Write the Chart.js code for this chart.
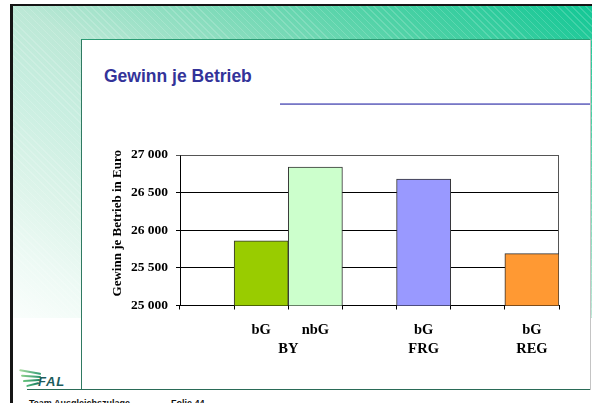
<!DOCTYPE html>
<html lang="de">
<head>
<meta charset="utf-8">
<title>Gewinn je Betrieb</title>
<script src="https://cdn.jsdelivr.net/npm/chart.js@4.4.1/dist/chart.umd.min.js"></script>
<style>
  html, body { margin: 0; padding: 0; background: #fff; }
  #slide { position: relative; width: 592px; height: 403px; overflow: hidden; background: #fff; font-family: "Liberation Sans", Arial, sans-serif; }
  #band {
    position: absolute; left: 13px; top: 6px; width: 579px; height: 312px;
    background:
      repeating-linear-gradient(45deg, rgba(255,255,255,0.16) 0 1px, rgba(255,255,255,0) 1px 5px),
      linear-gradient(to bottom left, #12c795 0%, #4fd2a6 20%, #85dcbc 35%, #bce8d6 50%, #c8eee0 62%, #ddf4ea 78%, #eefaf5 90%, #fafefc 100%);
  }
  #frameTop { position: absolute; left: 10px; top: 4px; width: 582px; height: 2px; background: #151515; }
  #frameLeft { position: absolute; left: 10px; top: 4px; width: 3px; height: 399px; background: #151515; }
  #panel {
    position: absolute; left: 81px; top: 39px; width: 510px; height: 351px; box-sizing: border-box;
    background: #fff; border-left: 1px solid #2f7a62; border-top: 1px solid #2b9c74; border-right: 1px solid #c4c4c4;
  }
  #baseLine { position: absolute; left: 27px; top: 389px; width: 563px; height: 1px; background: #2a6b57; }
  #title {
    position: absolute; left: 104px; top: 66px; line-height: 1;
    font: bold 17.5px "Liberation Sans", Arial, sans-serif; color: #333399; white-space: nowrap;
  }
  #titleRule { position: absolute; left: 280px; top: 103px; width: 310px; height: 2px; background: linear-gradient(#a0a0de, #6a6abb); }
  #logo { position: absolute; left: 17px; top: 370px; width: 52px; height: 18px; }
  #logo .sw { position: absolute; height: 2px; border-radius: 1px; transform-origin: right center; }
  #logo .fal {
    position: absolute; left: 21px; top: 4px; line-height: 1;
    font: italic bold 13px "Liberation Sans", Arial, sans-serif; color: #1d5c5c; letter-spacing: 0.8px;
  }
  .foot { position: absolute; top: 398px; line-height: 1; font: bold 9px "Liberation Sans", Arial, sans-serif; color: #111; white-space: nowrap; }
  #chart { position: absolute; left: 0; top: 0; }
</style>
</head>
<body>
<div id="slide">
  <div id="band"></div>
  <div id="frameTop"></div>
  <div id="frameLeft"></div>
  <div id="panel"></div>
  <div id="baseLine"></div>
  <div id="title">Gewinn je Betrieb</div>
  <div id="titleRule"></div>
  <div id="logo">
    <div class="sw" style="left:2px;top:3px;width:22px;background:linear-gradient(90deg,#a8dca0,#2f9a72);transform:rotate(10deg);"></div>
    <div class="sw" style="left:4px;top:6px;width:20px;background:linear-gradient(90deg,#8fd38e,#25906c);transform:rotate(4deg);"></div>
    <div class="sw" style="left:6px;top:9px;width:17px;background:linear-gradient(90deg,#6cc67e,#1f8566);transform:rotate(-4deg);"></div>
    <div class="sw" style="left:9px;top:12px;width:13px;background:linear-gradient(90deg,#4db878,#1b7a60);transform:rotate(-14deg);"></div>
    <span class="fal">FAL</span>
  </div>
  <div class="foot" style="left:29px;">Team Ausgleichszulage</div>
  <div class="foot" style="left:171px;">Folie 44</div>
  <canvas id="chart" width="592" height="403"></canvas>
</div>

<script>
// Farm profit, euro per farm (bG / nbG per region, empty slots are spacer columns)
const categories = ['', 'bG', 'nbG', '', 'bG', '', 'bG'];
const regions = ['', 'BY', 'BY', '', 'FRG', '', 'REG'];
const profitPerFarm = [null, 25860, 26840, null, 26680, null, 25690];
const yTickValues = [25000, 25500, 26000, 26500, 27000];
const axisTitle = 'Gewinn je Betrieb in Euro';

// Fill colours per column
const barColors = ['rgba(0,0,0,0)', '#99cc00', '#ccffcc', 'rgba(0,0,0,0)', '#9999ff', 'rgba(0,0,0,0)', '#ff9933'];

// Region label sits at the middle of the columns belonging to it
const regionNames = [];
const regionCenters = [];
regions.forEach((r, i) => {
  if (!r) return;
  const k = regionNames.indexOf(r);
  if (k < 0) { regionNames.push(r); regionCenters.push([i]); }
  else regionCenters[k].push(i);
});
const regionTickValues = regionCenters.map(ix => ix.reduce((a, b) => a + b, 0) / ix.length + 0.5);

const serif = '"Liberation Serif", "Times New Roman", serif';

function formatThousands(v) {
  return String(Math.round(v)).replace(/\B(?=(\d{3})+(?!\d))/g, ' ');
}

// Grey top and right edges of the plot box
const plotFrame = {
  id: 'plotFrame',
  beforeDatasetsDraw(chart) {
    const { ctx, chartArea: a } = chart;
    ctx.save();
    ctx.strokeStyle = '#555';
    ctx.lineWidth = 1;
    ctx.beginPath();
    ctx.moveTo(Math.round(a.left) + 0.5, Math.round(a.top) + 0.5);
    ctx.lineTo(Math.round(a.right) - 0.5, Math.round(a.top) + 0.5);
    ctx.lineTo(Math.round(a.right) - 0.5, Math.round(a.bottom));
    ctx.stroke();
    ctx.restore();
  }
};

// Rotated value-axis caption
const yCaption = {
  id: 'yCaption',
  afterDraw(chart) {
    const { ctx, chartArea: a } = chart;
    ctx.save();
    ctx.font = 'bold 13px ' + serif;
    ctx.fillStyle = '#000';
    ctx.textAlign = 'center';
    ctx.textBaseline = 'middle';
    ctx.translate(chart.scales.y.left + 18, (a.top + a.bottom) / 2 - 7);
    ctx.rotate(-Math.PI / 2);
    ctx.fillText(axisTitle, 0, 0);
    ctx.restore();
  }
};

new Chart(document.getElementById('chart'), {
  type: 'bar',
  data: {
    labels: categories,
    datasets: [{
      data: profitPerFarm,
      backgroundColor: barColors,
      borderColor: '#333',
      borderWidth: 1,
      barPercentage: 1,
      categoryPercentage: 1
    }]
  },
  options: {
    responsive: false,
    devicePixelRatio: 1,
    animation: false,
    events: [],
    layout: { padding: { left: 100, top: 155, right: 33, bottom: 37.5 } },
    plugins: { legend: { display: false }, tooltip: { enabled: false }, title: { display: false } },
    scales: {
      x: {
        type: 'category',
        position: 'bottom',
        weight: 0,
        afterFit(s) { s.height = 30; },
        border: { display: true, color: '#000', width: 1 },
        grid: { display: true, offset: true, drawOnChartArea: false, drawTicks: true, tickLength: 4, color: '#000' },
        ticks: { autoSkip: false, maxRotation: 0, padding: 12.5, color: '#000', font: { family: serif, size: 14.5, weight: 'bold' } }
      },
      region: {
        type: 'linear',
        axis: 'x',
        position: 'bottom',
        weight: 1,
        offset: false,
        min: 0,
        max: categories.length,
        afterFit(s) { s.height = 30; },
        afterBuildTicks(s) { s.ticks = regionTickValues.map(v => ({ value: v })); },
        border: { display: false },
        grid: { display: false, offset: false, drawTicks: false },
        ticks: {
          autoSkip: false, maxRotation: 0, padding: 4.8, color: '#000',
          font: { family: serif, size: 14.5, weight: 'bold' },
          callback(value) {
            const k = regionTickValues.findIndex(v => Math.abs(v - value) < 1e-6);
            return k >= 0 ? regionNames[k] : '';
          }
        }
      },
      y: {
        position: 'left',
        min: yTickValues[0],
        max: yTickValues[yTickValues.length - 1],
        afterFit(s) { s.width = 80; },
        afterBuildTicks(s) { s.ticks = yTickValues.map(v => ({ value: v })); },
        border: { display: true, color: '#000', width: 1 },
        grid: {
          drawTicks: true, tickLength: 4, lineWidth: 1,
          color(c) { return c.tick && c.tick.value === yTickValues[yTickValues.length - 1] ? '#555' : '#000'; }
        },
        ticks: { padding: 8, color: '#000', font: { family: serif, size: 13.5, weight: 'bold' }, callback: v => formatThousands(v) }
      }
    }
  },
  plugins: [plotFrame, yCaption]
});
</script>
</body>
</html>
